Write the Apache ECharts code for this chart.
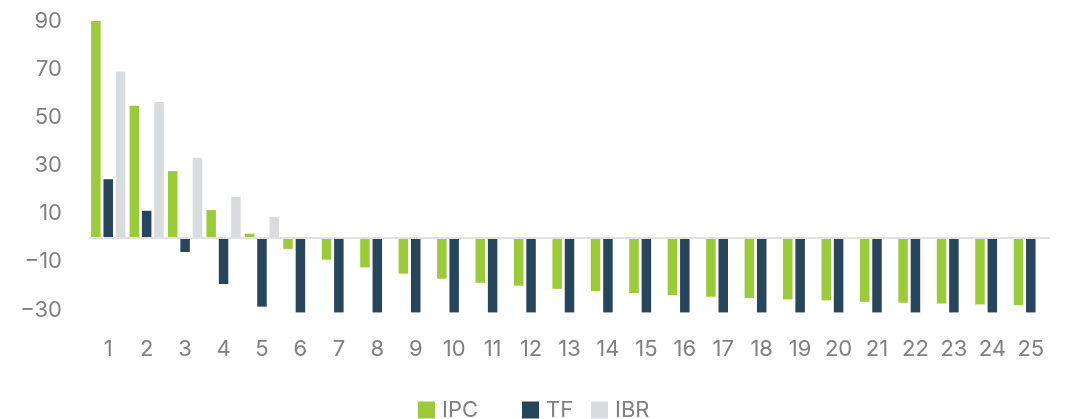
<!DOCTYPE html>
<html>
<head>
<meta charset="utf-8">
<script src="https://cdn.jsdelivr.net/npm/echarts@6/dist/echarts.min.js"></script>
<style>
  html, body { margin: 0; padding: 0; background: #ffffff; }
  #chart { width: 1068px; height: 419px; }
</style>
</head>
<body>
<div id="chart"></div>
<script>
// Periods 1..25
const categories = ['1','2','3','4','5','6','7','8','9','10','11','12','13','14','15','16','17','18','19','20','21','22','23','24','25'];

const ipcValues = [90, 54.8, 27.7, 11.5, 1.7, -4.6, -9.1, -12.3, -14.9, -17.0, -18.7, -19.9, -21.2,
                   -22.1, -23.0, -23.8, -24.5, -25.0, -25.6, -26.0, -26.6, -27.0, -27.3, -27.7, -27.9];
const tfValues  = [24.3, 11.2, -5.9, -19.2, -28.6, -31, -31, -31, -31, -31, -31, -31, -31,
                   -31, -31, -31, -31, -31, -31, -31, -31, -31, -31, -31, -31];
const ibrValues = [69.0, 56.4, 33.2, 17.0, 8.7, null, null, null, null, null, null, null, null,
                   null, null, null, null, null, null, null, null, null, null, null, null];

const seriesNames = ['IPC', 'TF', 'IBR'];
const seriesColors = ['#9bcb3a', '#27455b', '#d9dcdf'];

const FONT = 'Inter, "Open Sans", sans-serif';
const TEXT_GRAY = '#808080';

const chart = echarts.init(document.getElementById('chart'), null, { renderer: 'canvas' });

function legendFor(name, left) {
  return {
    data: [name],
    left: left,
    top: 399,
    icon: 'rect',
    itemWidth: 17,
    itemHeight: 17,
    padding: 0,
    selectedMode: false,
    textStyle: { color: TEXT_GRAY, fontSize: 22, fontFamily: FONT, padding: [0, 0, 0, 2] }
  };
}

function barSeries(name, data, color, extra) {
  return Object.assign({
    name: name,
    type: 'bar',
    data: data,
    barWidth: 9.5,
    barGap: '30%',
    itemStyle: { color: color },
    clip: false
  }, extra || {});
}

chart.setOption({
  animation: false,
  color: seriesColors,
  grid: { left: 89, right: 18, top: 21, bottom: 109, containLabel: false },
  legend: [
    legendFor(seriesNames[0], 418),
    legendFor(seriesNames[1], 522),
    legendFor(seriesNames[2], 591)
  ],
  xAxis: {
    type: 'category',
    data: categories,
    axisLine: { show: false, onZero: false },
    axisTick: { show: false },
    axisLabel: { color: TEXT_GRAY, fontSize: 22, fontFamily: FONT, margin: 28 }
  },
  yAxis: {
    type: 'value',
    min: -30,
    max: 90,
    interval: 20,
    axisLine: { show: false },
    axisTick: { show: false },
    splitLine: { show: false },
    axisLabel: {
      color: TEXT_GRAY, fontSize: 22, fontFamily: FONT, margin: 27,
      // typographic minus for negative ticks
      formatter: v => String(v).replace('-', '\u2212')
    }
  },
  series: [
    barSeries(seriesNames[0], ipcValues, seriesColors[0], {
      markLine: {
        silent: true,
        symbol: 'none',
        label: { show: false },
        lineStyle: { color: '#e2e2e2', width: 2, type: 'solid' },
        data: [{ yAxis: 0 }]
      }
    }),
    barSeries(seriesNames[1], tfValues, seriesColors[1]),
    barSeries(seriesNames[2], ibrValues, seriesColors[2])
  ]
});
</script>
</body>
</html>
